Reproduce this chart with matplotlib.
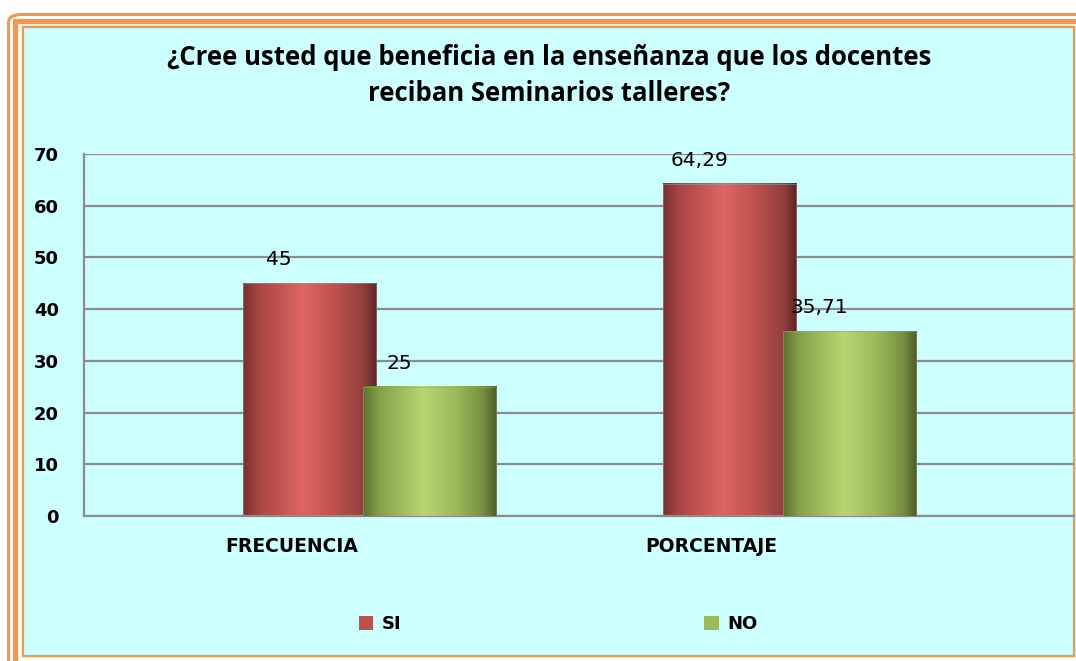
import numpy as np
import matplotlib
matplotlib.use("Agg")
import matplotlib.pyplot as plt
from matplotlib.colors import LinearSegmentedColormap
from matplotlib.patches import Rectangle, FancyBboxPatch

# data
categorias = ["FRECUENCIA", "PORCENTAJE"]
si_vals = [45, 64.29]
no_vals = [25, 35.71]
si_labels = ["45", "64,29"]
no_labels = ["25", "35,71"]
titulo = "¿Cree usted que beneficia en la enseñanza que los docentes\nreciban Seminarios talleres?"

W, H = 1076, 661
fig = plt.figure(figsize=(W / 100, H / 100), dpi=100, facecolor="white")

def fx(px):
    return px / W

def fy(py):
    return 1 - py / H

orange = "#f79646"
cyan = "#ccffff"
tfont = "Open Sans"
bfont = "DejaVu Sans"

# frame: outer thin rounded line, thick line, inner thin line around the cyan area
fig.add_artist(FancyBboxPatch((fx(8.5), fy(900)), fx(1300), (900 - 14.5) / H,
                              boxstyle="round,pad=0,rounding_size=0.012",
                              fc="none", ec=orange, lw=2.2, zorder=-3))
fig.add_artist(Rectangle((fx(15), fy(900)), fx(1300), (900 - 20.5) / H,
                         fc="none", ec=orange, lw=3.8, zorder=-3))
fig.add_artist(Rectangle((fx(23), fy(656)), fx(1051), (656 - 27) / H,
                         fc=cyan, ec=orange, lw=1.6, zorder=-2))

ax = fig.add_axes([fx(84), fy(516), fx(990), (516 - 154) / H])
ax.set_facecolor("none")

x = np.arange(len(categorias))
bw = 0.317
off = 0.143
lab_shift = 0.186   # category labels sit left of the bar groups

red_cmap = LinearSegmentedColormap.from_list("r", [
    (0.0, "#7a302e"), (0.12, "#a84644"), (0.45, "#de6662"),
    (0.7, "#bc504d"), (0.9, "#91403e"), (1.0, "#5e2422")])
green_cmap = LinearSegmentedColormap.from_list("g", [
    (0.0, "#5a722e"), (0.12, "#86a04a"), (0.45, "#b9d572"),
    (0.7, "#9db85b"), (0.9, "#768f40"), (1.0, "#4b5e24")])

bars_si = ax.bar(x - off, si_vals, bw, color="#c0504d", zorder=2)
bars_no = ax.bar(x + off, no_vals, bw, color="#9bbb59", zorder=3)

grad = np.linspace(0, 1, 256).reshape(1, -1)
for bars, cmap, z in [(bars_si, red_cmap, 2.1), (bars_no, green_cmap, 3.1)]:
    for r in bars:
        x0, w, h = r.get_x(), r.get_width(), r.get_height()
        ax.imshow(grad, extent=[x0, x0 + w, 0, h], aspect="auto",
                  cmap=cmap, zorder=z)
        ax.add_patch(Rectangle((x0, 0), w, h, fc="none", ec="#9a9a9a",
                               lw=0.6, alpha=0.6, zorder=z + 0.05))

for bars, labs in [(bars_si, si_labels), (bars_no, no_labels)]:
    for r, lab in zip(bars, labs):
        ax.annotate(lab, (r.get_x() + r.get_width() / 2, r.get_height()),
                    xytext=(-22, 10), textcoords="offset points",
                    ha="center", va="bottom", fontsize=14.5,
                    family="DejaVu Sans", zorder=5)

ax.set_xlim(-0.680, 1.677)
ax.set_ylim(0, 70)
ax.set_yticks(range(0, 71, 10))
ax.yaxis.grid(True, color="#8c8c8c", lw=1.6, zorder=0)
ax.set_axisbelow(True)

ax.set_xticks(x - lab_shift)
ax.set_xticklabels(categorias, fontsize=13.5, fontweight="bold", family=bfont)
for t in ax.get_yticklabels():
    t.set_fontsize(13)
    t.set_fontweight("bold")
    t.set_family(bfont)
ax.tick_params(axis="x", length=0, pad=15)
ax.tick_params(axis="y", length=0, pad=18)

for s in ["top", "right"]:
    ax.spines[s].set_visible(False)
ax.spines["left"].set_color("#8c8c8c")
ax.spines["left"].set_linewidth(1.6)
ax.spines["bottom"].set_color("#8c8c8c")
ax.spines["bottom"].set_linewidth(1.6)

fig.text(fx(549), fy(75.5), titulo, ha="center", va="center", fontsize=18.5,
         fontweight="bold", family=tfont, linespacing=1.42)

handles = [Rectangle((0, 0), 1, 1, fc="#c0504d"), Rectangle((0, 0), 1, 1, fc="#9bbb59")]
fig.legend(handles, ["SI", "NO"], loc="center", bbox_to_anchor=(fx(558), fy(624)),
           ncol=2, frameon=False, prop={"family": bfont, "weight": "bold", "size": 13},
           handlelength=0.8, handleheight=0.8, handletextpad=0.45, columnspacing=16.8)

fig.savefig("out.png", dpi=100, facecolor="white")
